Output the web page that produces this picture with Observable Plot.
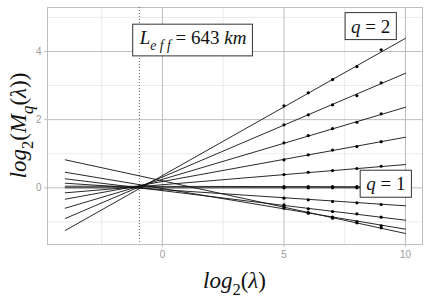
<!DOCTYPE html>
<html>
<head>
<meta charset="utf-8">
<script src="https://cdn.jsdelivr.net/npm/d3@7"></script>
<script src="https://cdn.jsdelivr.net/npm/@observablehq/plot@0.6"></script>
<style>
  html, body { margin: 0; padding: 0; background: #fff; }
</style>
</head>
<body>
<div id="chart"></div>
<script>
// Moment orders q and the scale ratios (log2 λ) at which the moments were estimated
const qValues = [2, 1.8, 1.6, 1.4, 1.2, 1, 0.8, 0.6, 0.4, 0.2, 0];
const log2Lambda = [5, 6, 7, 8, 9];

// Empirical log2 M_q(λ), one row per q, one column per log2 λ
const momentRows = [
  [2.405, 2.786, 3.176, 3.557, 4.047],
  [1.847, 2.141, 2.434, 2.707, 3.079],
  [1.320, 1.534, 1.739, 1.924, 2.170],
  [0.821, 0.968, 1.108, 1.211, 1.355],
  [0.390, 0.457, 0.507, 0.566, 0.633],
  [0.000, 0.000, 0.000, 0.000, 0.000],
  [-0.305, -0.352, -0.402, -0.440, -0.490],
  [-0.499, -0.616, -0.695, -0.762, -0.862],
  [-0.548, -0.724, -0.862, -0.988, -1.114],
  [-0.598, -0.745, -0.891, -1.026, -1.173],
  [0.035, 0.035, 0.035, 0.035, 0.035]
];

// Fitted scaling lines, evaluated at both ends of the plotted range
const fitX = [-4, 10];
const fitStart = [-1.252, -0.900, -0.598, -0.334, -0.147, 0, 0.135, 0.264, 0.457, 0.821, 0.047];
const fitEnd = [4.387, 3.361, 2.364, 1.484, 0.683, 0, -0.528, -0.950, -1.214, -1.340, 0.030];

// Outer scale marker (log2 λ of the effective outer scale)
const outerScale = [-0.95];

// Axis ticks and grid
const xTicks = [0, 5, 10];
const xMinor = [-2.5, 2.5, 7.5];
const yTicks = [0, 2, 4];
const yMinor = [-1, 1, 3, 5];

// Boxed annotations: anchor (data units) and text runs
const annotations = [
  {x: 1.28, y: 4.39, runs: [{t: "L", i: true}, {t: "e f f", i: true, sub: true}, {t: " = 643 "}, {t: "km", i: true}]},
  {x: 8.59, y: 4.73, runs: [{t: "q", i: true}, {t: " = 2"}]},
  {x: 9.21, y: 0.105, runs: [{t: "q", i: true}, {t: " = 1"}]}
];

const xTitle = [{t: "log", i: true}, {t: "2", sub: true}, {t: "("}, {t: "λ", i: true}, {t: ")"}];
const yTitle = [{t: "log", i: true}, {t: "2", sub: true}, {t: "("}, {t: "M", i: true}, {t: "q", i: true, sub: true}, {t: "("}, {t: "λ", i: true}, {t: "))"}];

const MATH_FONT = "'Liberation Serif', 'DejaVu Serif', serif";

const points = [];
momentRows.forEach((row, k) => row.forEach((v, j) => points.push({q: qValues[k], x: log2Lambda[j], y: v})));
const fits = [];
qValues.forEach((q, k) => {
  fits.push({q, x: fitX[0], y: fitStart[k]});
  fits.push({q, x: fitX[1], y: fitEnd[k]});
});

function richText(parent, runs, size) {
  const t = parent.append("text")
    .attr("font-family", MATH_FONT)
    .attr("font-size", size)
    .attr("fill", "#111");
  let shift = 0;
  for (const r of runs) {
    const s = t.append("tspan").text(r.t).attr("xml:space", "preserve");
    if (r.i) s.attr("font-style", "italic");
    const target = r.sub ? size * 0.3 : 0;
    if (target !== shift) { s.attr("dy", target - shift); shift = target; }
    if (r.sub) s.attr("font-size", size * 0.72);
  }
  t.style("white-space", "pre");
  return t;
}

const plot = Plot.plot({
  width: 424,
  height: 300,
  marginLeft: 47,
  marginRight: 2,
  marginTop: 7,
  marginBottom: 56,
  x: {domain: [-4.73, 10.7]},
  y: {domain: [-1.663, 5.29]},
  style: {background: "#fff", fontFamily: "'Liberation Sans', Arial, sans-serif"},
  marks: [
    Plot.ruleX(xMinor, {stroke: "#ebebeb", strokeWidth: 1}),
    Plot.ruleY(yMinor, {stroke: "#ebebeb", strokeWidth: 1}),
    Plot.ruleX(xTicks, {stroke: "#bdbdbd", strokeWidth: 1}),
    Plot.ruleY(yTicks, {stroke: "#bdbdbd", strokeWidth: 1}),
    Plot.frame({stroke: "#bdbdbd"}),
    Plot.axisX({ticks: xTicks, tickFormat: d => String(d), tickSize: 3, tickPadding: 3, stroke: "#bdbdbd", fill: "#9a9a9a", fontSize: 10, label: null}),
    Plot.axisY({ticks: yTicks, tickFormat: d => String(d), tickSize: 3, tickPadding: 3, stroke: "#bdbdbd", fill: "#9a9a9a", fontSize: 10, label: null}),
    Plot.ruleX(outerScale, {stroke: "#666", strokeDasharray: "1,2", strokeWidth: 1}),
    Plot.line(fits, {x: "x", y: "y", z: "q", stroke: "#111", strokeWidth: 0.9}),
    Plot.dot(points, {x: "x", y: "y", r: 1.6, fill: "#000", stroke: "none"}),
    // boxed annotations
    (index, scales) => {
      const g = d3.create("svg:g");
      for (const a of annotations) {
        const box = g.append("g").attr("class", "label-box")
          .attr("transform", `translate(${scales.x(a.x)},${scales.y(a.y)})`);
        box.append("rect").attr("fill", "#fff").attr("stroke", "#333").attr("stroke-width", 1);
        richText(box, a.runs, 19).attr("text-anchor", "middle").attr("y", 6.5);
      }
      return g.node();
    },
    // axis titles
    (index, scales, values, dim) => {
      const g = d3.create("svg:g");
      const cx = (dim.marginLeft + dim.width - dim.marginRight) / 2;
      const cy = (dim.marginTop + dim.height - dim.marginBottom) / 2;
      richText(g, xTitle, 23).attr("text-anchor", "middle").attr("x", cx).attr("y", 288);
      richText(g.append("g").attr("transform", `translate(26,${cy}) rotate(-90)`), yTitle, 23)
        .attr("text-anchor", "middle");
      return g.node();
    }
  ]
});

document.getElementById("chart").append(plot);

// size each annotation box around its text
document.querySelectorAll(".label-box").forEach(box => {
  const bb = box.querySelector("text").getBBox();
  const padX = 6, padY = 3;
  const r = box.querySelector("rect");
  r.setAttribute("x", bb.x - padX);
  r.setAttribute("y", bb.y - padY);
  r.setAttribute("width", bb.width + 2 * padX);
  r.setAttribute("height", bb.height + 2 * padY);
});
</script>
</body>
</html>
